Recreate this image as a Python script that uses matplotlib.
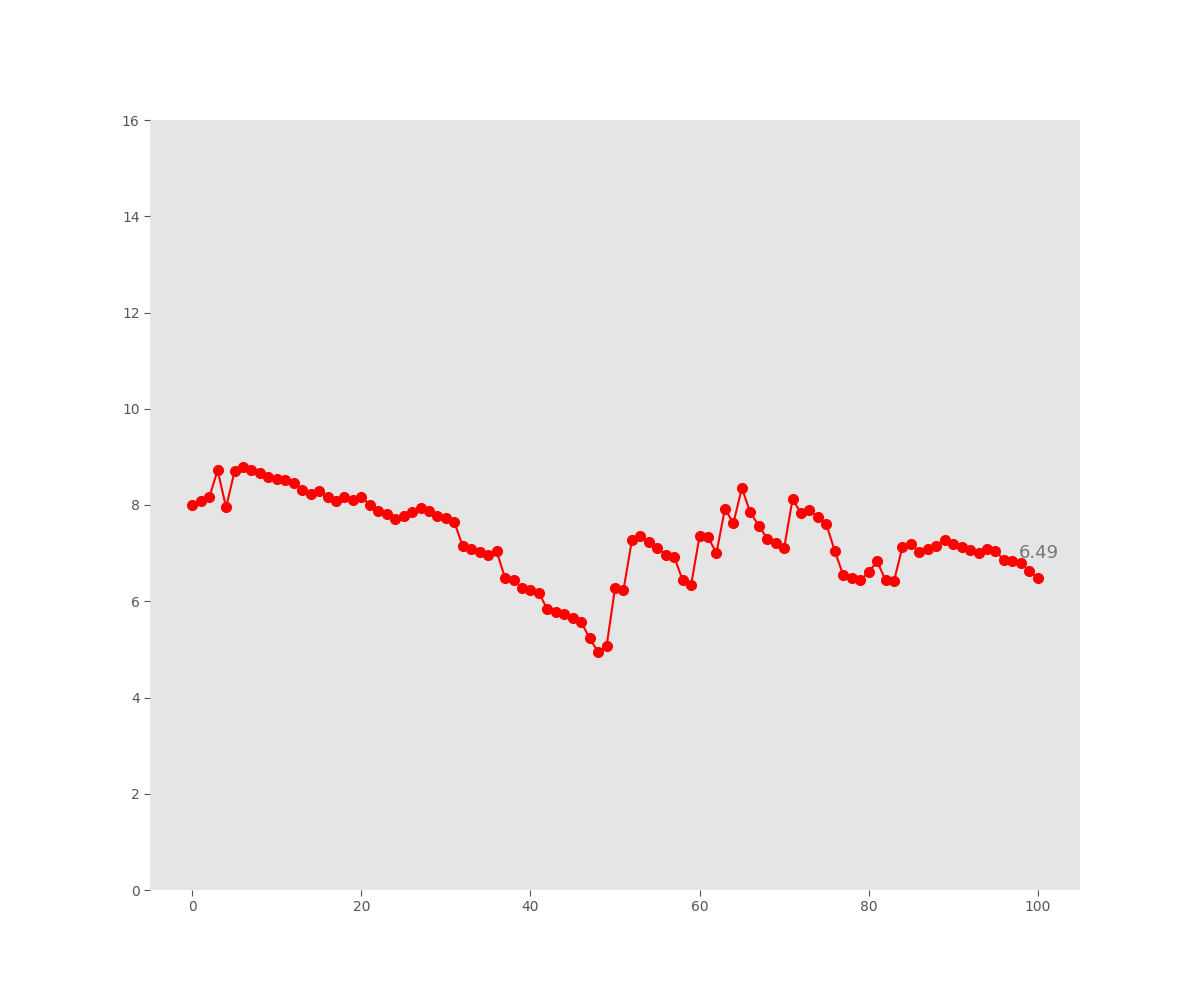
import numpy as np
import matplotlib.pyplot as plt

# values
x_vals = list(range(101))
y_vals = [
    8.00, 8.08, 8.16, 8.72, 7.95, 8.70, 8.78, 8.72, 8.66, 8.58,
    8.55, 8.51, 8.45, 8.31, 8.23, 8.30, 8.16, 8.08, 8.16, 8.10,
    8.16, 8.01, 7.87, 7.82, 7.70, 7.78, 7.85, 7.93, 7.87, 7.78,
    7.73, 7.64, 7.14, 7.08, 7.02, 6.96, 7.04, 6.48, 6.44, 6.28,
    6.24, 6.18, 5.83, 5.78, 5.73, 5.65, 5.57, 5.23, 4.95, 5.06,
    6.27, 6.23, 7.27, 7.35, 7.23, 7.10, 6.97, 6.92, 6.44, 6.34,
    7.35, 7.33, 7.00, 7.92, 7.62, 8.35, 7.85, 7.57, 7.30, 7.22,
    7.10, 8.12, 7.83, 7.89, 7.75, 7.60, 7.04, 6.54, 6.49, 6.44,
    6.60, 6.83, 6.44, 6.42, 7.13, 7.19, 7.02, 7.09, 7.15, 7.27,
    7.19, 7.12, 7.06, 7.00, 7.08, 7.04, 6.86, 6.83, 6.79, 6.63,
    6.49,
]
label_text = "6.49"

fig, ax = plt.subplots(figsize=(12, 10), dpi=100)
ax.set_facecolor("#E5E5E5")
for s in ax.spines.values():
    s.set_visible(False)

ax.plot(x_vals, y_vals, color="red", marker="o", markersize=7, linewidth=1.5)
ax.text(97.8, 7.0, label_text, fontsize=13, color="#777777", va="center", ha="left")

ax.set_xlim(-5, 105)
ax.set_ylim(0, 16)
ax.set_xticks(np.arange(0, 101, 20))
ax.set_yticks(np.arange(0, 17, 2))
ax.tick_params(colors="#555555", labelsize=10, length=4)

plt.savefig("out.png")
